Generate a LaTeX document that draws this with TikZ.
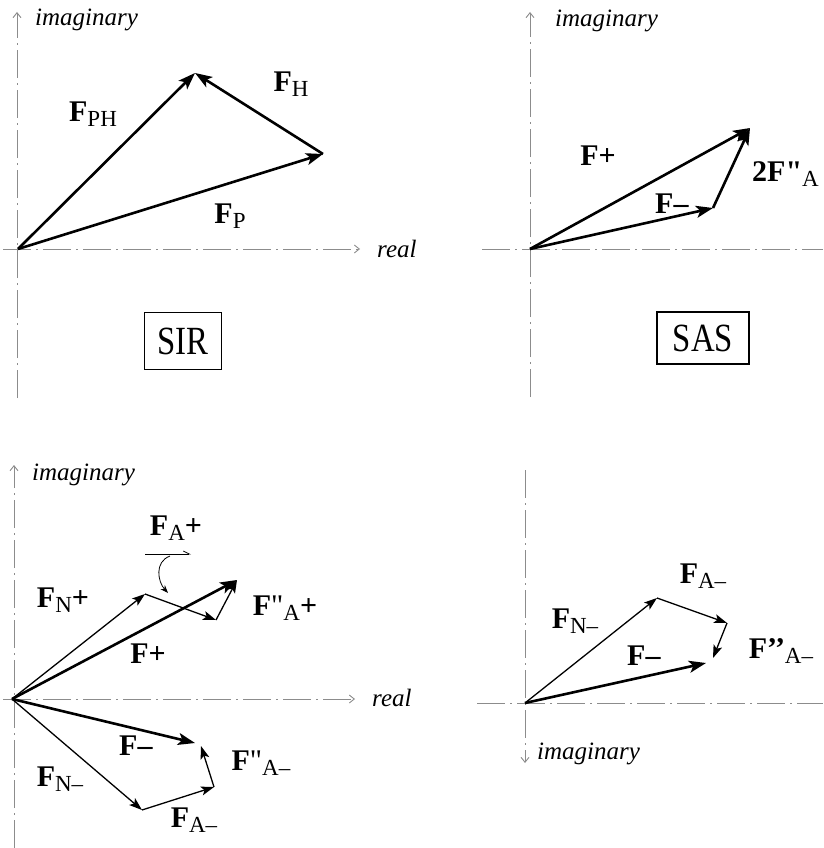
\documentclass[tikz,border=0pt]{standalone}
\usepackage{fontspec}
\setmainfont{Liberation Serif}
\usetikzlibrary{arrows.meta}
\newcommand\FF{\textbf{F}}
\newcommand\sbs[1]{\raisebox{-5pt}{\fontsize{23}{23}\selectfont #1}}
\tikzset{
  axisline/.style={draw=black!45, line width=0.9pt, dash pattern=on 28pt off 5pt on 2pt off 5pt},
  axtip/.style={-{Straight Barb[length=5pt,width=8pt]}},
  vecthick/.style={line width=2.6pt, -{Stealth[length=17pt,width=12pt,inset=4pt]}},
  vecthin/.style={line width=1.3pt, -{Stealth[length=13pt,width=9pt,inset=3pt]}},
  lbl/.style={font=\fontsize{30}{30}\selectfont, inner sep=0pt},
  ital/.style={font=\fontsize{25}{25}\selectfont\itshape, inner sep=0pt},
  tag/.style={draw, line width=1.2pt, font=\fontsize{40}{40}\selectfont, inner sep=0pt}
}
\begin{document}
\begin{tikzpicture}[x=1pt,y=-1pt]
\useasboundingbox (0,0) rectangle (823,848);
% ---------- top left (SIR) ----------
\coordinate (o1) at (18,249);
\coordinate (a1) at (195,73);
\coordinate (b1) at (323,154);
\coordinate (v1t) at (17,12);
\coordinate (v1b) at (17,398);
\coordinate (h1l) at (3,249);
\coordinate (h1r) at (360,249);
\draw[axisline, axtip] (v1b) -- (v1t);
\draw[axisline, axtip] (h1l) -- (h1r);
\node[ital, anchor=west] (im1) at (35,20) {imaginary};
\node[ital, anchor=west] (re1) at (377,249) {real};
\draw[vecthick] (o1) -- (a1);
\draw[vecthick] (o1) -- (b1);
\draw[vecthick] (b1) -- (a1);
\node[lbl] (lph) at (93,114) {\FF\sbs{PH}};
\node[lbl] (lh) at (291,84) {\FF\sbs{H}};
\node[lbl] (lp) at (230,216) {\FF\sbs{P}};
\node[tag, minimum width=77pt, minimum height=57pt] (sir) at (183,341) {\scalebox{0.82}[1]{SIR}};
% ---------- top right (SAS) ----------
\coordinate (o2) at (530,249);
\coordinate (p2) at (750,128);
\coordinate (m2) at (713,208);
\coordinate (v2t) at (530,12);
\coordinate (v2b) at (530,397);
\coordinate (h2l) at (482,249);
\coordinate (h2r) at (823,249);
\draw[axisline, axtip] (v2b) -- (v2t);
\draw[axisline] (h2l) -- (h2r);
\node[ital, anchor=west] (im2) at (555,21) {imaginary};
\draw[vecthick] (o2) -- (p2);
\draw[vecthick] (o2) -- (m2);
\draw[vecthick] (m2) -- (p2);
\node[lbl] (lp2) at (598,156) {\textbf{F+}};
\node[lbl] (lm2) at (672,204) {\textbf{F–}};
\node[lbl, anchor=west] (la2) at (752,174) {\textbf{2F\textquotedbl}\sbs{A}};
\node[tag, minimum width=92pt, minimum height=52pt] (sas) at (703,338) {\scalebox{0.82}[1]{SAS}};
% ---------- bottom left ----------
\coordinate (o3) at (12,699);
\coordinate (n3) at (145,594);
\coordinate (q3) at (216,620);
\coordinate (p3) at (237,580);
\coordinate (m3) at (195,743);
\coordinate (nm3) at (142,810);
\coordinate (am3) at (214,787);
\coordinate (em3) at (201,746);
\coordinate (v3t) at (14,465);
\coordinate (v3b) at (14,848);
\coordinate (h3l) at (3,699);
\coordinate (h3r) at (355,699);
\draw[axisline, axtip] (v3b) -- (v3t);
\draw[axisline, axtip] (h3l) -- (h3r);
\node[ital, anchor=west] (im3) at (32,475) {imaginary};
\node[ital, anchor=west] (re3) at (372,698) {real};
\draw[vecthin] (o3) -- (n3);
\draw[vecthin] (n3) -- (q3);
\draw[vecthin] (q3) -- (p3);
\draw[vecthick] (o3) -- (p3);
\draw[vecthick] (o3) -- (m3);
\draw[vecthin] (o3) -- (nm3);
\draw[vecthin] (nm3) -- (am3);
\draw[vecthin] (am3) -- (em3);
\coordinate (c3a) at (145,554);
\coordinate (c3b) at (191,554);
\coordinate (c3c) at (170,556);
\coordinate (c3d) at (168,593);
\draw[line width=0.8pt, -{Straight Barb[left, length=6pt,width=6pt]}] (c3a) -- (c3b);
\draw[line width=0.8pt, -{Stealth[length=8pt,width=6pt]}] (c3c) .. controls (154,562) and (158,582) .. (c3d);
\node[lbl] (lfa3) at (176,528) {\FF\sbs{A}\textbf{+}};
\node[lbl] (lfn3) at (63,600) {\FF\sbs{N}\textbf{+}};
\node[lbl] (lfaa3) at (285,608) {\FF\textquotedbl\sbs{A}\textbf{+}};
\node[lbl] (lfp3) at (148,654) {\textbf{F+}};
\node[lbl] (lfm3) at (136,746) {\textbf{F–}};
\node[lbl] (lfaam3) at (261,763) {\FF\textquotedbl\sbs{A–}};
\node[lbl] (lfnm3) at (60,779) {\FF\sbs{N–}};
\node[lbl] (lfam3) at (194,820) {\FF\sbs{A–}};
% ---------- bottom right ----------
\coordinate (o4) at (525,703);
\coordinate (n4) at (657,598);
\coordinate (a4) at (727,623);
\coordinate (e4) at (713,658);
\coordinate (m4) at (706,663);
\coordinate (v4t) at (525,470);
\coordinate (v4b) at (525,763);
\coordinate (h4l) at (477,703);
\coordinate (h4r) at (823,703);
\draw[axisline, axtip] (v4t) -- (v4b);
\draw[axisline] (h4l) -- (h4r);
\node[ital, anchor=west] (im4) at (537,754) {imaginary};
\draw[vecthin] (o4) -- (n4);
\draw[vecthin] (n4) -- (a4);
\draw[vecthin] (a4) -- (e4);
\draw[vecthick] (o4) -- (m4);
\node[lbl] (lfa4) at (703,576) {\FF\sbs{A–}};
\node[lbl] (lfn4) at (575,621) {\FF\sbs{N–}};
\node[lbl] (lfm4) at (644,656) {\textbf{F–}};
\node[lbl] (lfaa4) at (781,651) {\FF\textbf{’’}\sbs{A–}};
\end{tikzpicture}
\end{document}
